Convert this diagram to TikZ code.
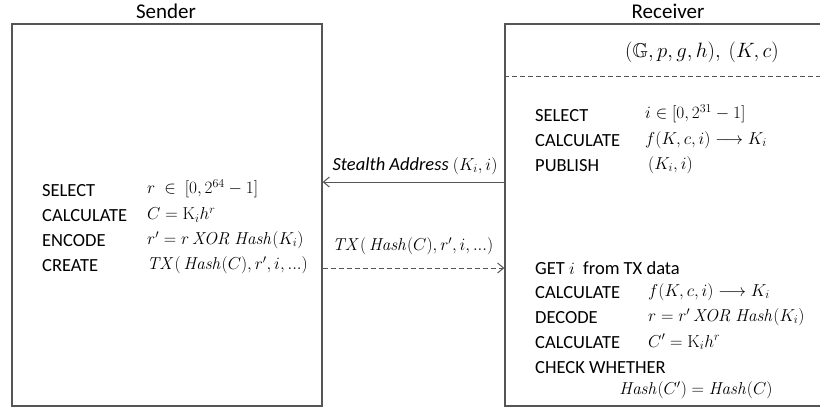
\documentclass[tikz,border=0pt]{standalone}
\usepackage[no-math]{fontspec}
\setmainfont{Carlito}
\usepackage{amsmath,amssymb}
\usetikzlibrary{arrows.meta}
\definecolor{edge}{HTML}{555555}
\newcommand{\tdots}{\mathinner{\ldotp\!\ldotp\!\ldotp}}
\tikzset{
  panel/.style={draw=edge, line width=1.3pt, minimum width=#1, inner sep=0pt},
  title/.style={font=\fontsize{21}{24}\selectfont, anchor=center},
  lbl/.style={font=\fontsize{18.5}{21}\selectfont, anchor=west, inner sep=0pt},
  mth/.style={font=\fontsize{18.5}{21}\selectfont, anchor=west, inner sep=0pt},
  msg/.style={draw=edge, line width=1pt, -{Straight Barb[length=6pt,width=10pt]}},
  dsh/.style={dash pattern=on 5pt off 3pt},
}
\begin{document}
\begin{tikzpicture}[x=1pt,y=-1pt]
\useasboundingbox (0,0) rectangle (820,410);
% boxes
\node[panel=310pt, minimum height=382pt] (send) at (167,215) {};
\node[panel=316pt, minimum height=382pt] (recv) at (663,215) {};
\node[title] (tsend) at (166,11) {Sender};
\node[title] (trecv) at (668,11) {Receiver};
% receiver header
\node[mth, anchor=center, font=\fontsize{20}{22}\selectfont] (params) at (702,52) {$(\mathbb{G},p,g,h),\ (K,c)$};
\coordinate (dl) at (505,76);
\draw[edge, dsh, line width=0.8pt] (recv.west |- dl) -- (recv.east |- dl);
% receiver upper
\node[lbl] (r1) at (535,116) {SELECT};
\node[mth] (r1m) at (645,114) {$i\in[0,2^{31}-1]$};
\node[lbl] (r2) at (535,141) {CALCULATE};
\node[mth] (r2m) at (645,140) {$f(K,c,i)\longrightarrow K_i$};
\node[lbl] (r3) at (535,166) {PUBLISH};
\node[mth] (r3m) at (648,165) {$(K_i,i)$};
% sender
\node[lbl] (s1) at (42,191) {SELECT};
\node[mth] (s1m) at (147,189) {$r\ \in\ [0,2^{64}-1]$};
\node[lbl] (s2) at (42,216) {CALCULATE};
\node[mth] (s2m) at (147,215) {$C=\mathrm{K}_ih^r$};
\node[lbl] (s3) at (42,241) {ENCODE};
\node[mth] (s3m) at (147,240) {$r'=r\,\mathit{XOR}\ \mathit{Hash}(K_i)$};
\node[lbl] (s4) at (42,266) {CREATE};
\node[mth] (s4m) at (147,265) {$\mathit{TX}(\,\mathit{Hash}(C),r',i,\tdots)$};
% receiver lower
\node[lbl] (g1) at (535,268) {GET $i$\ \ from TX data};
\node[lbl] (g2) at (535,293) {CALCULATE};
\node[mth] (g2m) at (648,292) {$f(K,c,i)\longrightarrow K_i$};
\node[lbl] (g3) at (535,318) {DECODE};
\node[mth] (g3m) at (648,317) {$r=r'\,\mathit{XOR}\ \mathit{Hash}(K_i)$};
\node[lbl] (g4) at (535,343) {CALCULATE};
\node[mth] (g4m) at (648,342) {$C'=\mathrm{K}_ih^r$};
\node[lbl] (g5) at (535,368) {CHECK WHETHER};
\node[mth, anchor=center] (g6) at (696,390) {$\mathit{Hash}(C')=\mathit{Hash}(C)$};
% messages
\coordinate (ya) at (0,182);
\coordinate (yb) at (0,268);
\draw[msg] (recv.west |- ya) -- (send.east |- ya);
\node[lbl, anchor=center] (la) at (415,166) {\textit{Stealth Address} $(K_i,i)$};
\draw[msg, dsh] (send.east |- yb) -- (recv.west |- yb);
\node[mth, anchor=center] (lb) at (413,246) {$\mathit{TX}(\,\mathit{Hash}(C),r',i,\tdots)$};
\end{tikzpicture}
\end{document}
